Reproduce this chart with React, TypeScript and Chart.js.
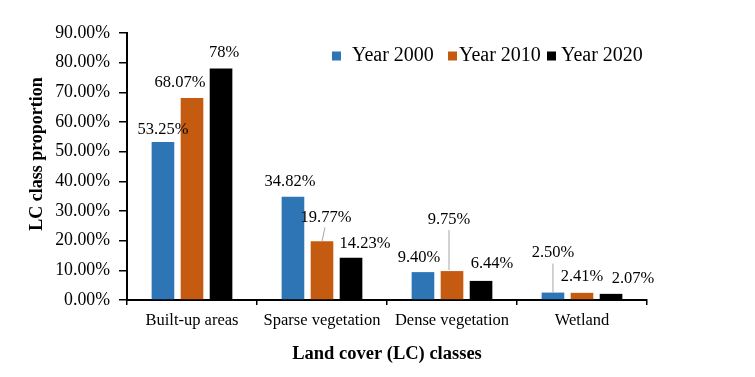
import React, { useEffect, useRef } from "react";
import { Chart, registerables } from "chart.js";

Chart.register(...registerables);

const categories = ["Built-up areas", "Sparse vegetation", "Dense vegetation", "Wetland"];
const seriesNames = ["Year 2000", "Year 2010", "Year 2020"];
const year2000 = [53.25, 34.82, 9.4, 2.5];
const year2010 = [68.07, 19.77, 9.75, 2.41];
const year2020 = [78, 14.23, 6.44, 2.07];
const labels2000 = ["53.25%", "34.82%", "9.40%", "2.50%"];
const labels2010 = ["68.07%", "19.77%", "9.75%", "2.41%"];
const labels2020 = ["78%", "14.23%", "6.44%", "2.07%"];
const yMax = 90;
const yStep = 10;
const yTitle = "LC class proportion";
const xTitle = "Land cover (LC) classes";

const COLORS = ["#2E75B6", "#C55A11", "#000000"];
const FONT = '"Liberation Serif", "Times New Roman", serif';

// label placement style: [dx, dy] relative to bar top centre; optional leader [sx, sy, ex, ey]
const labelStyle: any[][] = [
  [{ d: [0, -12] }, { d: [-3, -15] }, { d: [-4, -14] }, { d: [0, -40], l: [0, -29, 0, 0] }],
  [{ d: [-12, -15] }, { d: [4, -24], l: [3, -14, 0, 0] }, { d: [-3, -51], l: [-3, -41, -3, -1] }, { d: [0, -16] }],
  [{ d: [3, -16] }, { d: [14, -14] }, { d: [11, -17] }, { d: [22, -15] }],
];
const allLabels = [labels2000, labels2010, labels2020];
// legend layout (swatch x, text x)
const legendPos = [[332, 352], [448, 459], [547, 561]];

const overlay = {
  id: "overlay",
  afterDatasetsDraw(chart: any) {
    const ctx = chart.ctx;
    ctx.save();
    ctx.font = `16.5px ${FONT}`;
    ctx.fillStyle = "#000";
    ctx.textAlign = "center";
    ctx.textBaseline = "middle";
    chart.data.datasets.forEach((ds: any, di: number) => {
      const meta = chart.getDatasetMeta(di);
      meta.data.forEach((bar: any, i: number) => {
        const st = labelStyle[di][i];
        if (st.l) {
          ctx.strokeStyle = "#A6A6A6";
          ctx.lineWidth = 1;
          ctx.beginPath();
          ctx.moveTo(bar.x + st.l[0], bar.y + st.l[1]);
          ctx.lineTo(bar.x + st.l[2], bar.y + st.l[3]);
          ctx.stroke();
        }
        ctx.fillText(allLabels[di][i], bar.x + st.d[0], bar.y + st.d[1]);
      });
    });
    // legend
    ctx.font = `20px ${FONT}`;
    ctx.textAlign = "left";
    const y = 55.5;
    seriesNames.forEach((n, i) => {
      ctx.fillStyle = COLORS[i];
      ctx.fillRect(legendPos[i][0], y - 4, 9, 9);
      ctx.fillStyle = "#000";
      ctx.fillText(n, legendPos[i][1], y);
    });
    // y title
    ctx.font = `bold 18px ${FONT}`;
    ctx.textAlign = "center";
    ctx.translate(37, 154);
    ctx.rotate(-Math.PI / 2);
    ctx.fillText(yTitle, 0, 0);
    ctx.restore();
  },
};

export default function App() {
  const ref = useRef<HTMLCanvasElement>(null);
  useEffect(() => {
    const chart = new Chart(ref.current!, {
      type: "bar",
      data: {
        labels: categories,
        datasets: [year2000, year2010, year2020].map((d, i) => ({
          label: seriesNames[i],
          data: d,
          backgroundColor: COLORS[i],
          categoryPercentage: 0.67,
          barPercentage: 0.78,
        })),
      },
      options: {
        animation: false,
        responsive: false,
        maintainAspectRatio: false,
        layout: { padding: { left: 0, top: 33, right: 108, bottom: 0 } },
        plugins: { legend: { display: false }, tooltip: { enabled: false } },
        scales: {
          x: {
            border: { color: "#000", width: 2 },
            grid: { display: true, drawOnChartArea: false, drawTicks: true, tickLength: 5, color: "#000", lineWidth: 1.5, offset: true },
            ticks: { color: "#000", font: { family: FONT, size: 16.5 }, padding: 6, maxRotation: 0, autoSkip: false },
            title: { display: true, text: xTitle, color: "#000", font: { family: FONT, size: 18.5, weight: "bold" }, padding: { top: 4, bottom: 12 } },
            afterFit: (s: any) => { s.height = 77; },
          },
          y: {
            min: 0,
            max: yMax,
            border: { color: "#000", width: 2 },
            grid: { display: true, drawOnChartArea: false, drawTicks: true, tickLength: 8, color: "#000", lineWidth: 1.5 },
            ticks: {
              stepSize: yStep,
              color: "#000",
              padding: 9,
              font: { family: FONT, size: 17.8 },
              callback: (v: any) => Number(v).toFixed(2) + "%",
            },
            afterFit: (s: any) => { s.width = 127; },
          },
        },
      },
      plugins: [overlay],
    } as any);
    return () => chart.destroy();
  }, []);
  return (
    <div style={{ position: "absolute", left: 0, top: 0, width: 755, height: 377, background: "#fff" }}>
      <canvas ref={ref} width={755} height={377} style={{ width: 755, height: 377 }} />
    </div>
  );
}
